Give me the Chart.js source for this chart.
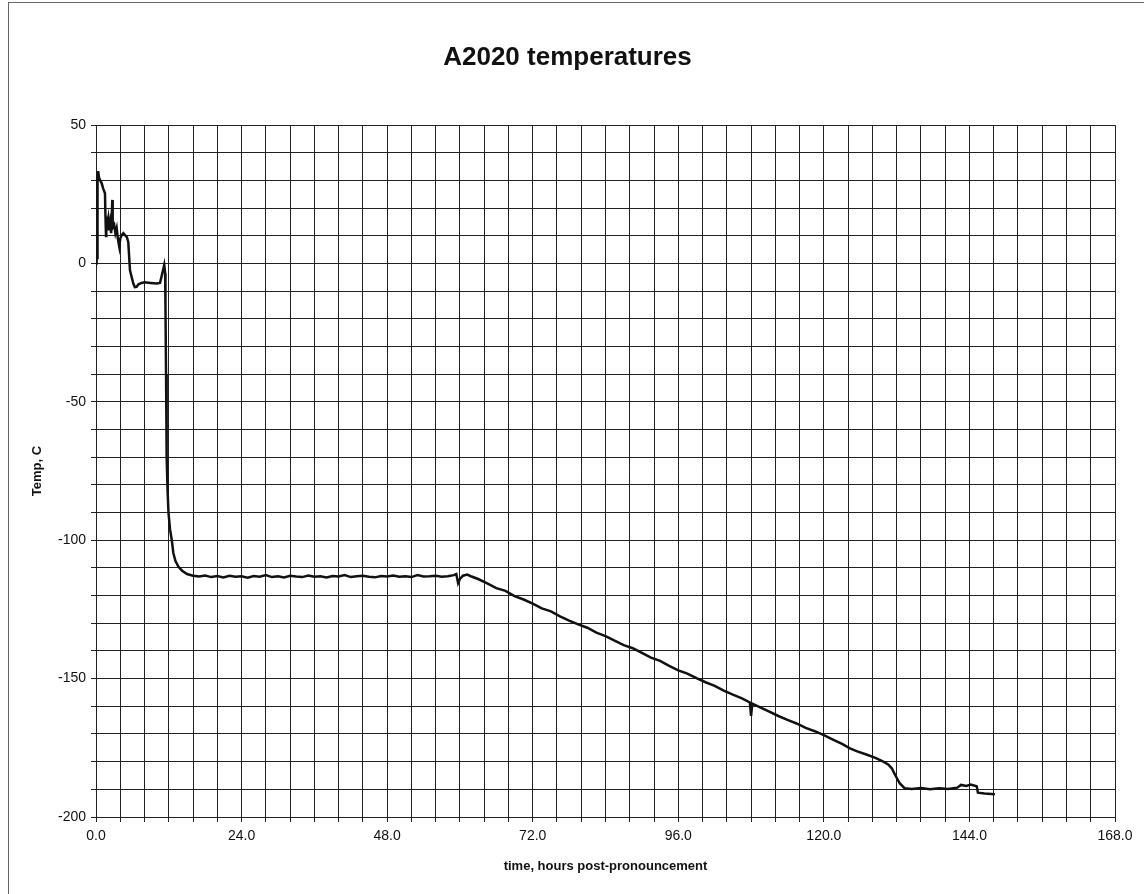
<!DOCTYPE html>
<html lang="en">
<head>
<meta charset="UTF-8">
<title>A2020 temperatures</title>
<script src="https://cdn.jsdelivr.net/npm/chart.js"></script>
<style>
    body { margin: 0; background: #fff; }
    #wrap { position: relative; width: 1144px; height: 894px; }
    #frame { position: absolute; left: 8px; top: 2px; right: 0; bottom: 0; border-left: 1px solid #666; border-top: 1px solid #666; }
    canvas { position: absolute; left: 0; top: 0; }
</style>
</head>
<body>
<div id="wrap">
    <div id="frame"></div>
    <canvas id="canvas" width="1144" height="894"></canvas>
</div>
<script>
    // hours after pronouncement
    const hours = [
        0.0, 0.05, 0.1, 0.15, 0.2, 0.25, 0.38, 0.5, 0.7, 0.94, 1.2, 1.48, 1.55, 1.65, 1.7, 1.85,
        2.0, 2.1, 2.3, 2.5, 2.69, 2.75, 3.0, 3.2, 3.41, 3.6, 3.84, 4.0, 4.24, 4.5, 4.78, 5.1,
        5.32, 5.6, 6.15, 6.4, 6.7, 7.0, 7.5, 8.0, 9.0, 10.0, 10.55, 11.1, 11.25, 11.4, 11.45,
        11.55, 11.65, 11.8, 11.95, 12.2, 12.5, 12.75, 13.1, 13.6, 14.2, 15.0,
        16, 17, 18, 19, 20, 21, 22, 23, 24, 25, 26, 27, 28, 29, 30, 31, 32, 33, 34, 35, 36, 37,
        38, 39, 40, 41, 42, 43, 44, 45, 46, 47, 48, 49, 50, 51, 52, 53, 54, 55, 56, 57, 58, 59,
        59.4, 59.7, 60.0, 60.5, 61.2, 61.8,
        63, 64.5, 66, 67.5, 69, 70.5, 72, 73.5, 75, 76.5, 78, 79.5, 81, 82.5, 84, 85.5, 87,
        88.5, 90, 91.5, 93, 94.5, 96, 97.5, 99, 100.5, 102, 103.5, 105, 106.5, 107.8, 108.0,
        108.2, 109.5, 111, 112.5, 114, 115.5, 117, 118.5, 120, 121.5, 123, 124.3, 125.5, 127,
        128.5, 129.8, 130.6, 131.2, 131.8, 132.5, 133.3, 134.5, 136, 137.5, 139, 140.5, 142,
        142.6, 143.5, 144.2, 145.2, 145.4, 146.5, 148.2
    ];

    // temperature, C
    const temps = [
        0, 33, 0, 31, 2, 33, 33, 31, 30, 29, 27, 25.4, 18, 10, 17, 14,
        16, 12, 15, 11, 23, 13, 14, 11, 12.8, 9, 6, 9, 10.3, 11, 10.3, 9.5,
        7.8, -2.4, -7.2, -8.5, -8.4, -7.5, -7, -6.8, -7, -7.2, -7, -2, -0.5, -3.5, -15,
        -40, -70, -82, -90, -96, -100, -104.6, -107.5, -109.6, -111, -112.2,
        -112.8, -113.1, -112.7, -113.3, -112.9, -113.4, -112.8, -113.2, -113.0, -113.5, -112.9,
        -113.2, -112.6, -113.3, -113.0, -113.4, -112.8, -113.1, -113.3, -112.7, -113.2, -113.0,
        -113.4, -112.9, -113.1, -112.6, -113.3, -113.0, -112.8, -113.2, -113.4, -112.9, -113.1,
        -112.7, -113.2, -113.0, -113.3, -112.6, -113.1, -113.0, -112.8, -113.2, -113.0, -112.6,
        -112.2, -115.5, -114, -112.8, -112.4, -113.0,
        -114.0, -115.6, -117.3, -118.3, -120.2, -121.4, -122.9, -124.6, -125.7, -127.5, -129.0,
        -130.4, -131.6, -133.4, -134.6, -136.3, -137.9, -139.0, -140.7, -142.4, -143.6, -145.4,
        -147.0, -148.2, -149.8, -151.3, -152.6, -154.3, -155.8, -157.1, -158.6, -163.5,
        -159.0, -160.4, -161.9, -163.5, -164.9, -166.2, -167.8, -169.0, -170.4, -172.0, -173.6,
        -175.2, -176.3, -177.4, -178.6, -180.0, -181.0, -182.4, -185.0, -187.8, -189.6, -189.9,
        -189.5, -190.0, -189.6, -189.9, -189.4, -188.4, -188.8, -188.3, -188.9, -191.2, -191.5,
        -191.8
    ];

    // axis ranges and labelled ticks
    const xRange = [0, 168];
    const yRange = [-200, 50];
    const xLabelEvery = 24;
    const yLabelEvery = 50;

    const FONT = "'Liberation Sans', Arial, sans-serif";
    const gridCol = '#222';

    const points = hours.map((h, i) => ({ x: h, y: temps[i] }));

    const ctx = document.getElementById('canvas').getContext('2d');
    new Chart(ctx, {
        type: 'scatter',
        data: {
            datasets: [{
                data: points,
                showLine: true,
                borderColor: '#111',
                borderWidth: 2.5,
                pointRadius: 0,
                tension: 0
            }]
        },
        options: {
            responsive: false,
            animation: false,
            layout: { padding: { left: 20, right: 29, top: 0, bottom: 0 } },
            plugins: {
                legend: { display: false },
                tooltip: { enabled: false },
                title: {
                    display: true,
                    text: 'A2020 temperatures',
                    color: '#111',
                    font: { family: FONT, size: 26, weight: 'bold' },
                    padding: { top: 42, bottom: 52 }
                }
            },
            scales: {
                x: {
                    type: 'linear',
                    min: xRange[0],
                    max: xRange[1],
                    afterFit: (s) => { s.height = 77; },
                    grid: { color: gridCol, lineWidth: 1, tickLength: 5, drawTicks: true },
                    border: { color: gridCol, width: 1 },
                    ticks: {
                        stepSize: 4,
                        autoSkip: false,
                        maxRotation: 0,
                        padding: 6,
                        color: '#111',
                        font: { family: FONT, size: 14 },
                        callback: (v) => (v % xLabelEvery === 0 ? v.toFixed(1) : '')
                    },
                    title: {
                        display: true,
                        text: 'time, hours post-pronouncement',
                        color: '#111',
                        font: { family: FONT, size: 13, weight: 'bold' },
                        padding: { top: 0, bottom: 20 }
                    }
                },
                y: {
                    type: 'linear',
                    min: yRange[0],
                    max: yRange[1],
                    afterFit: (s) => { s.width = 76; },
                    grid: { color: gridCol, lineWidth: 1, tickLength: 5, drawTicks: true },
                    border: { color: gridCol, width: 1 },
                    ticks: {
                        stepSize: 10,
                        autoSkip: false,
                        padding: 5,
                        color: '#111',
                        font: { family: FONT, size: 14 },
                        callback: (v) => (v % yLabelEvery === 0 ? v : '')
                    },
                    title: {
                        display: true,
                        text: 'Temp, C',
                        color: '#111',
                        font: { family: FONT, size: 13, weight: 'bold' },
                        padding: { top: 10, bottom: 0 }
                    }
                }
            }
        }
    });
</script>
</body>
</html>
